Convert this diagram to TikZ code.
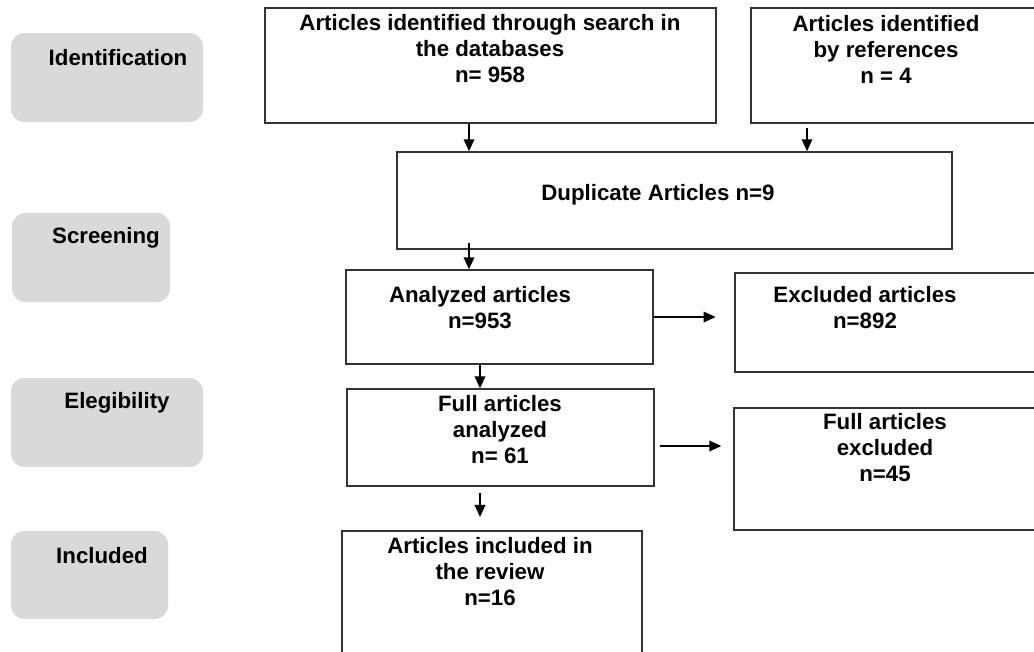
\documentclass[tikz,border=0pt]{standalone}
\usepackage{fontspec}
\setmainfont{Liberation Sans}
\usetikzlibrary{fit,arrows.meta}
\definecolor{lgray}{HTML}{D9D9D9}
\definecolor{edge}{HTML}{333333}
\tikzset{
  box/.style={draw=edge, line width=1.1pt, inner sep=0pt, fill=none},
  stage/.style={fill=lgray, rounded corners=10pt, inner sep=0pt},
  lbl/.style={font=\bfseries\fontsize{16.7}{19.5}\selectfont, align=center, inner sep=0pt, text=black},
  arr/.style={line width=1.1pt, draw=black, -{Triangle[length=9pt,width=8pt]}}
}
\begin{document}
\begin{tikzpicture}[x=0.75pt,y=-0.75pt]
\useasboundingbox (0,0) rectangle (1034,651);
\clip (0,0) rectangle (1034,651);
\fill[white] (0,0) rectangle (1034,651);
% stage boxes
\node[stage, fit={(11,33) (203,122)}] (g1) {};
\node[stage, fit={(12,213) (170,302)}] (g2) {};
\node[stage, fit={(11,378) (203,467)}] (g3) {};
\node[stage, fit={(11,531) (168,619)}] (g4) {};
\node[lbl] (t1) at (118,58) {Identification};
\node[lbl] (t2) at (106,238) {Screening};
\node[lbl] (t3) at (117,403) {Elegibility};
\node[lbl] (t4) at (102,556) {Included};
% flow boxes
\node[box, fit={(265,8) (716,123)}] (b1) {};
\node[box, fit={(751,8) (1045,123)}] (b2) {};
\node[box, fit={(397,152) (952,249)}] (dup) {};
\node[box, fit={(346,270) (653,364)}] (ana) {};
\node[box, fit={(735,273) (1045,372)}] (exc) {};
\node[box, fit={(347,389) (654,486)}] (full) {};
\node[box, fit={(734,408) (1045,530)}] (fexc) {};
\node[box, fit={(342,531) (642,680)}] (inc) {};
% labels
\node[lbl] (l1) at (490,49) {Articles identified through search in\\the databases\\n= 958};
\node[lbl] (l2) at (886,49) {Articles identified\\by references\\n = 4};
\node[lbl] (l3) at (658,195) {Duplicate Articles n=9};
\node[lbl] (l4) at (480,307.5) {Analyzed articles\\n=953};
\node[lbl] (l5) at (865,307.5) {Excluded articles\\n=892};
\node[lbl] (l6) at (500,430) {Full articles\\analyzed\\n= 61};
\node[lbl] (l7) at (885,448) {Full articles\\excluded\\n=45};
\node[lbl] (l8) at (490,572) {Articles included in\\the review\\n=16};
% guide coordinates
\coordinate (xa) at (469,0);
\coordinate (xb) at (807,0);
\coordinate (xd) at (480,0);
\coordinate (ye) at (0,446);
% connectors
\draw[arr] (b1.south -| xa) -- (dup.north -| xa);
\draw[arr] ([yshift=-3pt]b2.south -| xb) -- (dup.north -| xb);
\draw[arr] ([yshift=5pt]dup.south -| xa) -- (ana.north -| xa);
\draw[arr] (ana.east) -- ([xshift=-14pt]exc.west |- ana.east);
\draw[arr] (ana.south -| xd) -- (full.north -| xd);
\draw[arr] ([xshift=4pt]full.east |- ye) -- ([xshift=-9pt]fexc.west |- ye);
\draw[arr] ([yshift=-5pt]full.south -| xd) -- ([yshift=10pt]inc.north -| xd);
\end{tikzpicture}
\end{document}
